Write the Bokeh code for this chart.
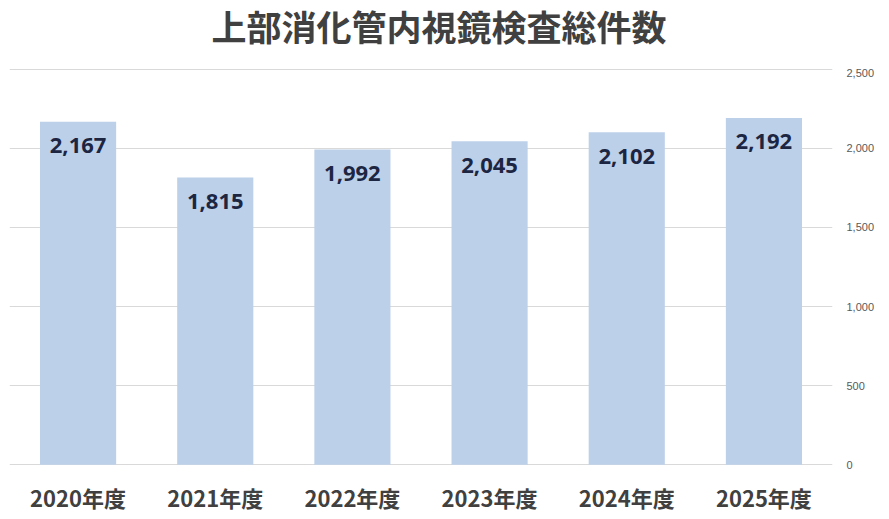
from bokeh.plotting import figure
from bokeh.layouts import column
from bokeh.models import ColumnDataSource, LabelSet, NumeralTickFormatter, FixedTicker, Range1d
from bokeh.core.properties import value
from bokeh.embed import file_html
from bokeh.resources import INLINE

title_text = "上部消化管内視鏡検査総件数"
categories = ["2020年度", "2021年度", "2022年度", "2023年度", "2024年度", "2025年度"]
values = [2167, 1815, 1992, 2045, 2102, 2192]
labels = ["2,167", "1,815", "1,992", "2,045", "2,102", "2,192"]
y_ticks = [0, 500, 1000, 1500, 2000, 2500]

# --- title strip (its own small SVG figure) ---
t = figure(width=889, height=68, x_range=Range1d(0, 889), y_range=Range1d(0, 68),
           output_backend="svg", toolbar_location=None, min_border=0,
           margin=0)
t.axis.visible = False
t.grid.grid_line_color = None
t.outline_line_color = None
t.text(x=[464], y=[43], text=[title_text], text_align="center", text_baseline="middle",
       text_font=value("Noto Sans CJK JP"), text_font_size="35px",
       text_font_style="bold", text_color="#404040")

# --- main chart ---
src = ColumnDataSource(dict(cat=categories, val=values, lab=labels))

p = figure(
    x_range=categories, y_range=Range1d(-4, 2504),
    width=889, height=451, output_backend="svg", toolbar_location=None,
    y_axis_location="right", margin=0,
    min_border_left=9, min_border_right=57, min_border_bottom=54, min_border_top=0,
)
p.x_range.range_padding = 0
p.outline_line_color = None
p.background_fill_color = "white"
p.border_fill_color = "white"

p.vbar(x="cat", top="val", width=0.555, source=src, color="#BCD0EA", line_color=None)

p.add_layout(LabelSet(x="cat", y="val", text="lab", source=src, text_align="center",
                      text_baseline="middle", y_offset=-24, text_font=value("Open Sans"),
                      text_font_size=value("22px"), text_font_style="bold", text_color="#1C2541"))

p.xgrid.grid_line_color = None
p.ygrid.grid_line_color = "#D9D9D9"
p.ygrid.grid_line_width = 1

p.yaxis.ticker = FixedTicker(ticks=y_ticks)
p.yaxis.formatter = NumeralTickFormatter(format="0,0")
p.yaxis.axis_line_color = None
p.yaxis.major_tick_line_color = None
p.yaxis.minor_tick_line_color = None
p.yaxis.major_tick_out = 0
p.yaxis.major_label_standoff = 14
p.yaxis.major_label_text_font = "Liberation Sans"
p.yaxis.major_label_text_font_size = "11px"
p.yaxis.major_label_text_color = "#595959"

p.xaxis.axis_line_color = None
p.xaxis.major_tick_line_color = None
p.xaxis.minor_tick_line_color = None
p.xaxis.major_tick_out = 0
p.xaxis.major_label_standoff = 15
p.xaxis.major_label_text_font = "Noto Sans CJK JP"
p.xaxis.major_label_text_font_size = "22px"
p.xaxis.major_label_text_font_style = "bold"
p.xaxis.major_label_text_color = "#404040"

layout = column(t, p, spacing=0, margin=0)
open("out.html", "w").write(file_html(layout, INLINE))
